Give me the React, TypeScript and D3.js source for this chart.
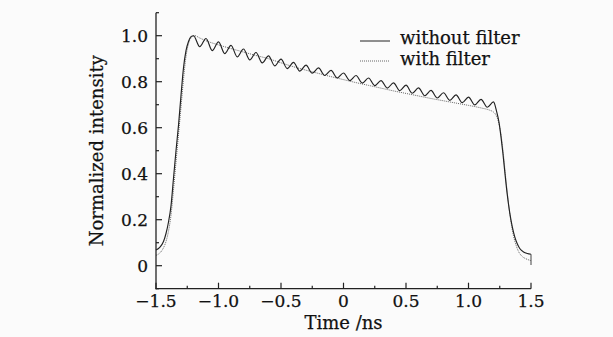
import React from "react";
import * as d3 from "d3";

// ---------- data ----------
const solidT = [
  -1.5, -1.47, -1.44, -1.42, -1.4, -1.38, -1.36, -1.34, -1.32, -1.3, -1.28, -1.26, -1.24, -1.22, -1.2,
  -1.15, -1.1, -1.05, -1.0, -0.95, -0.9, -0.85, -0.8, -0.75, -0.7, -0.65, -0.6, -0.55, -0.5, -0.45, -0.4,
  -0.35, -0.3, -0.25, -0.2, -0.15, -0.1, -0.05, 0.0, 0.05, 0.1, 0.15, 0.2, 0.25, 0.3, 0.35, 0.4, 0.45, 0.5,
  0.55, 0.6, 0.65, 0.7, 0.75, 0.8, 0.85, 0.9, 0.95, 1.0, 1.05, 1.1, 1.15, 1.2,
  1.225, 1.245, 1.26, 1.275, 1.29, 1.31, 1.33, 1.35, 1.37, 1.39, 1.41, 1.44, 1.47, 1.5,
];
const solidV = [
  0.068, 0.08, 0.105, 0.14, 0.19, 0.26, 0.38, 0.5, 0.61, 0.74, 0.86, 0.935, 0.975, 0.996, 1.0,
  0.952, 0.988, 0.935, 0.973, 0.922, 0.958, 0.908, 0.942, 0.895, 0.927, 0.882, 0.912, 0.869, 0.898, 0.857, 0.884,
  0.846, 0.872, 0.837, 0.86, 0.827, 0.849, 0.816, 0.838, 0.805, 0.827, 0.794, 0.816, 0.783, 0.805, 0.772, 0.795, 0.761, 0.785,
  0.75, 0.773, 0.739, 0.762, 0.729, 0.752, 0.719, 0.743, 0.709, 0.733, 0.699, 0.723, 0.689, 0.712,
  0.67, 0.62, 0.56, 0.49, 0.41, 0.31, 0.23, 0.17, 0.125, 0.095, 0.075, 0.06, 0.053, 0.05,
];
const tailT = [1.5, 1.5];
const tailV = [0.05, 0.003];

const dottedT = [
  -1.5, -1.47, -1.44, -1.42, -1.4, -1.38, -1.36, -1.34, -1.32, -1.3, -1.28, -1.26, -1.24, -1.22, -1.19,
  -1.15, -1.1, -1.0, -0.9, -0.8, -0.7, -0.6, -0.5, -0.4, -0.3, -0.2, -0.1, 0.0, 0.1, 0.2, 0.3, 0.4, 0.5,
  0.6, 0.7, 0.8, 0.9, 1.0, 1.1, 1.17, 1.2, 1.22, 1.24, 1.26, 1.28, 1.3, 1.32, 1.34, 1.36, 1.38, 1.4,
  1.43, 1.46, 1.5,
];
const dottedV = [
  0.045, 0.055, 0.078, 0.105, 0.15, 0.22, 0.33, 0.45, 0.57, 0.69, 0.81, 0.91, 0.965, 0.99, 1.0,
  0.99, 0.978, 0.96, 0.944, 0.929, 0.914, 0.9, 0.882, 0.865, 0.85, 0.836, 0.822, 0.809, 0.796, 0.784, 0.772, 0.76, 0.749,
  0.738, 0.727, 0.717, 0.707, 0.697, 0.686, 0.676, 0.668, 0.655, 0.625, 0.57, 0.48, 0.37, 0.27, 0.19, 0.13, 0.09, 0.062,
  0.04, 0.03, 0.022,
];

const xMajor = [-1.5, -1.0, -0.5, 0, 0.5, 1.0, 1.5];
const xMajorLabels = ["\u22121.5", "\u22121.0", "\u22120.5", "0", "0.5", "1.0", "1.5"];
const xMinor = [-1.25, -0.75, -0.25, 0.25, 0.75, 1.25];
const yMajor = [0, 0.2, 0.4, 0.6, 0.8, 1.0];
const yMajorLabels = ["0", "0.2", "0.4", "0.6", "0.8", "1.0"];
const yMinor = [-0.1, 0.1, 0.3, 0.5, 0.7, 0.9, 1.1];
const legendLabels = ["without filter", "with filter"];

// ---------- layout ----------
const W = 613;
const H = 337;
const FONT = "'DejaVu Serif', serif";

export default function App() {
  const x = d3.scaleLinear().domain([-1.5, 1.5]).range([156, 531]);
  const y = d3.scaleLinear().domain([-0.1, 1.1]).range([288.7, 12.7]);
  const x0 = x(-1.5);
  const yBase = y(-0.1);

  const line = d3
    .line<[number, number]>()
    .x((d) => x(d[0]))
    .y((d) => y(d[1]))
    .curve(d3.curveMonotoneX);
  const straight = d3
    .line<[number, number]>()
    .x((d) => x(d[0]))
    .y((d) => y(d[1]));

  const solid: [number, number][] = solidT.map((t, i) => [t, solidV[i]]);
  const dotted: [number, number][] = dottedT.map((t, i) => [t, dottedV[i]]);
  const tail: [number, number][] = tailT.map((t, i) => [t, tailV[i]]);

  const textProps = { fontFamily: FONT, fill: "#111", stroke: "#111", strokeWidth: 0.25 };

  return (
    <div style={{ position: "absolute", left: 0, top: 0 }}>
      <svg width={W} height={H} style={{ display: "block", background: "#fbfbfb" }}>
        {/* curves */}
        <path d={line(dotted) || ""} fill="none" stroke="#666" strokeWidth={1} strokeDasharray="1,1" />
        <path d={line(solid) || ""} fill="none" stroke="#222" strokeWidth={1.15} />
        <path d={straight(tail) || ""} fill="none" stroke="#444" strokeWidth={1} />

        {/* axes */}
        <line x1={x0} x2={x0} y1={y(1.1)} y2={yBase + 0.5} stroke="#222" strokeWidth={1.3} />
        <line x1={x0 - 0.5} x2={x(1.5)} y1={yBase} y2={yBase} stroke="#222" strokeWidth={1.3} />

        {xMajor.map((v, i) => (
          <g key={"xm" + i}>
            <line x1={x(v)} x2={x(v)} y1={yBase} y2={yBase - 6} stroke="#222" strokeWidth={1.2} />
            <text x={x(v)} y={307} textAnchor="middle" fontSize={17} {...textProps}>
              {xMajorLabels[i]}
            </text>
          </g>
        ))}
        {xMinor.map((v, i) => (
          <line key={"xn" + i} x1={x(v)} x2={x(v)} y1={yBase} y2={yBase - 3} stroke="#222" strokeWidth={1.2} />
        ))}
        {yMajor.map((v, i) => (
          <g key={"ym" + i}>
            <line x1={x0} x2={x0 + 6} y1={y(v)} y2={y(v)} stroke="#222" strokeWidth={1.2} />
            <text x={148} y={y(v)} dy="0.36em" textAnchor="end" fontSize={17} {...textProps}>
              {yMajorLabels[i]}
            </text>
          </g>
        ))}
        {yMinor.map((v, i) => (
          <line key={"yn" + i} x1={x0} x2={x0 + 3} y1={y(v)} y2={y(v)} stroke="#222" strokeWidth={1.2} />
        ))}

        {/* axis titles */}
        <text x={x(0)} y={329} textAnchor="middle" fontSize={18} {...textProps}>
          Time /ns
        </text>
        <text
          transform={`translate(97,${y(0.5)}) rotate(-90)`}
          textAnchor="middle"
          dy="0.36em"
          fontSize={18}
          {...textProps}
        >
          Normalized intensity
        </text>

        {/* legend */}
        <line x1={360} x2={390} y1={41} y2={41} stroke="#222" strokeWidth={1} />
        <text x={400} y={38} dy="0.36em" fontSize={18} {...textProps}>
          {legendLabels[0]}
        </text>
        <line x1={360} x2={390} y1={61} y2={61} stroke="#666" strokeWidth={1} strokeDasharray="1,1" />
        <text x={400} y={59} dy="0.36em" fontSize={18} {...textProps}>
          {legendLabels[1]}
        </text>
      </svg>
    </div>
  );
}
